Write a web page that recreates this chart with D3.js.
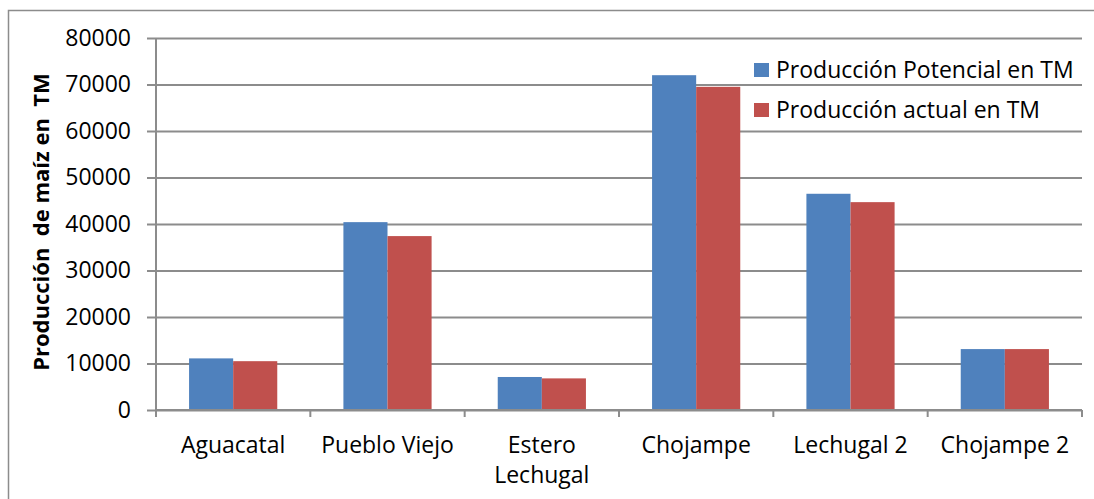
<!DOCTYPE html>
<html>
<head>
<meta charset="utf-8">
<script src="https://cdn.jsdelivr.net/npm/d3@7/dist/d3.min.js"></script>
<style>
  html, body { margin: 0; padding: 0; background: #fff; }
  svg { display: block; }
  text { font-family: "Open Sans", sans-serif; fill: #000; }
</style>
</head>
<body>
<svg id="chart" width="1094" height="499"></svg>
<script>
// Maize production per site (metric tonnes)
const categories = ["Aguacatal", "Pueblo Viejo", "Estero Lechugal", "Chojampe", "Lechugal 2", "Chojampe 2"];
const categoryLines = [["Aguacatal"], ["Pueblo Viejo"], ["Estero", "Lechugal"], ["Chojampe"], ["Lechugal 2"], ["Chojampe 2"]];
const seriesNames = ["Producción Potencial en TM", "Producción actual en TM"];
const potencial = [11100, 40400, 7100, 72000, 46500, 13100];
const actual = [10500, 37400, 6800, 69500, 44700, 13100];
const yTicks = [0, 10000, 20000, 30000, 40000, 50000, 60000, 70000, 80000];
const colors = ["#4F81BD", "#C0504D"];

const svg = d3.select("#chart");
const plot = { left: 156, right: 1082, top: 38, bottom: 410 };

// outer chart frame
svg.append("rect")
  .attr("x", 8.5).attr("y", 10.5)
  .attr("width", 1200).attr("height", 600)
  .attr("fill", "none").attr("stroke", "#8c8c8c").attr("stroke-width", 1.5);

const x0 = d3.scaleBand().domain(categories).range([plot.left, plot.right]).padding(0);
const x1 = d3.scaleBand().domain(seriesNames)
  .range([0, x0.bandwidth()]).paddingInner(0).paddingOuter(0.75);
const y = d3.scaleLinear().domain([0, 80000]).range([plot.bottom, plot.top]);

// horizontal gridlines with short ticks left of the axis
const yAxis = d3.axisLeft(y).tickValues(yTicks)
  .tickSize(plot.right - plot.left + 9).tickPadding(15).tickFormat(d3.format("d"));
const gy = svg.append("g").attr("transform", `translate(${plot.right},0)`).call(yAxis);
gy.select(".domain").remove();
gy.selectAll(".tick line").attr("stroke", "#8c8c8c").attr("stroke-width", 2);
gy.selectAll(".tick text")
  .attr("x", -(plot.right - plot.left) - 25)
  .style("font-size", "23px").style("font-family", "'Open Sans', sans-serif").attr("fill", "#000");

// bars
const rows = categories.map((c, i) => ({ cat: c, vals: [potencial[i], actual[i]] }));
const groups = svg.append("g").selectAll("g").data(rows).join("g")
  .attr("transform", d => `translate(${x0(d.cat)},0)`);
groups.selectAll("rect")
  .data(d => d.vals.map((v, k) => ({ name: seriesNames[k], v, k })))
  .join("rect")
  .attr("x", d => x1(d.name))
  .attr("y", d => y(d.v))
  .attr("width", x1.bandwidth())
  .attr("height", d => y(0) - y(d.v))
  .attr("fill", d => colors[d.k]);

// axis lines
svg.append("line")
  .attr("x1", plot.left).attr("x2", plot.left)
  .attr("y1", plot.top).attr("y2", plot.bottom + 7)
  .attr("stroke", "#8c8c8c").attr("stroke-width", 2);
svg.append("line")
  .attr("x1", plot.left).attr("x2", plot.right)
  .attr("y1", plot.bottom).attr("y2", plot.bottom)
  .attr("stroke", "#8c8c8c").attr("stroke-width", 2);

// category separators below the axis
const sepPositions = categories.map(c => x0(c)).concat([plot.right]);
svg.append("g").selectAll("line").data(sepPositions).join("line")
  .attr("x1", d => d).attr("x2", d => d)
  .attr("y1", plot.bottom).attr("y2", plot.bottom + 7)
  .attr("stroke", "#8c8c8c").attr("stroke-width", 2);

// category labels
const labels = svg.append("g").selectAll("text").data(categories).join("text")
  .attr("x", d => x0(d) + x0.bandwidth() / 2)
  .attr("y", 453)
  .attr("text-anchor", "middle")
  .style("font-size", "23px");
labels.each(function (d, i) {
  d3.select(this).selectAll("tspan").data(categoryLines[i]).join("tspan")
    .attr("x", x0(d) + x0.bandwidth() / 2)
    .attr("dy", (t, j) => j === 0 ? 0 : 30)
    .text(t => t);
});

// y axis title
svg.append("text")
  .attr("transform", "translate(49,222) rotate(-90)")
  .attr("text-anchor", "middle")
  .style("font-size", "22px").style("font-weight", "bold")
  .attr("xml:space", "preserve")
  .text("Producción  de maíz en  TM");

// legend
const legend = svg.append("g").selectAll("g").data(seriesNames).join("g")
  .attr("transform", (d, i) => `translate(754,${63 + i * 40})`);
legend.append("rect").attr("width", 15).attr("height", 14).attr("fill", (d, i) => colors[i]);
legend.append("text").attr("x", 22).attr("y", 15).style("font-size", "23px").text(d => d);
</script>
</body>
</html>
